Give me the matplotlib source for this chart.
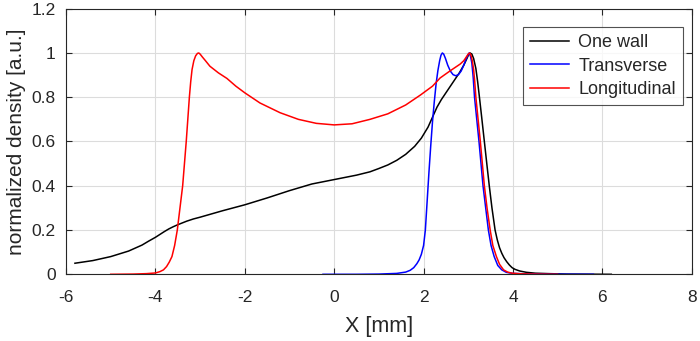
import matplotlib
matplotlib.use("Agg")
import matplotlib.pyplot as plt

# density profiles across the channel
one_wall_x = [-5.8, -5.4, -5.0, -4.6, -4.3, -4.15, -4.0, -3.9, -3.8, -3.7, -3.6, -3.5,
              -3.4, -3.3, -3.15, -3.0, -2.5, -2.0, -1.5, -1.0, -0.5, 0.0, 0.5, 0.8, 1.0,
              1.2, 1.4, 1.6, 1.8, 1.95, 2.1, 2.2, 2.3, 2.4, 2.5, 2.65, 2.8, 2.9, 2.97,
              3.01, 3.04, 3.08, 3.12, 3.17, 3.21, 3.25, 3.3, 3.36, 3.42, 3.47, 3.53, 3.6,
              3.65, 3.7, 3.75, 3.8, 3.86, 3.92, 3.98, 4.05, 4.15, 4.3, 4.5, 4.8, 5.2, 6.2]
one_wall_y = [0.05, 0.062, 0.08, 0.105, 0.132, 0.15, 0.167, 0.18, 0.193, 0.205, 0.215,
              0.224, 0.232, 0.24, 0.25, 0.258, 0.287, 0.314, 0.345, 0.378, 0.408, 0.428,
              0.448, 0.463, 0.478, 0.494, 0.515, 0.542, 0.578, 0.615, 0.665, 0.71, 0.755,
              0.79, 0.82, 0.865, 0.91, 0.945, 0.975, 0.993, 1.0, 0.995, 0.975, 0.93,
              0.87, 0.8, 0.71, 0.6, 0.49, 0.4, 0.3, 0.2, 0.155, 0.12, 0.095, 0.075, 0.057,
              0.042, 0.03, 0.022, 0.015, 0.009, 0.005, 0.003, 0.001, 0.0]

transverse_x = [-0.25, 0.5, 1.0, 1.4, 1.6, 1.7, 1.78, 1.85, 1.9, 1.95, 2.0, 2.04, 2.08,
                2.12, 2.16, 2.2, 2.24, 2.28, 2.32, 2.36, 2.39, 2.42, 2.45, 2.49, 2.54,
                2.6, 2.66, 2.72, 2.78, 2.84, 2.9, 2.95, 2.99, 3.02, 3.05, 3.08, 3.11,
                3.14, 3.19, 3.24, 3.285, 3.33, 3.39, 3.45, 3.51, 3.58, 3.66, 3.75, 3.85,
                4.0, 4.3, 4.8, 5.8]
transverse_y = [0.0, 0.0, 0.001, 0.004, 0.01, 0.018, 0.03, 0.048, 0.065, 0.09, 0.13, 0.2,
                0.33, 0.46, 0.58, 0.69, 0.78, 0.86, 0.92, 0.965, 0.99, 1.0, 0.995, 0.975,
                0.945, 0.918, 0.902, 0.897, 0.902, 0.918, 0.945, 0.972, 0.99, 1.0, 0.985,
                0.955, 0.89, 0.8, 0.7, 0.6, 0.5, 0.4, 0.3, 0.2, 0.13, 0.08, 0.04, 0.02,
                0.009, 0.004, 0.002, 0.0005, 0.0]

longitudinal_x = [-5.0, -4.5, -4.2, -4.0, -3.9, -3.82, -3.75, -3.69, -3.63, -3.57, -3.51,
                  -3.45, -3.39, -3.35, -3.31, -3.275, -3.24, -3.21, -3.18, -3.14, -3.1,
                  -3.06, -3.03, -3.0, -2.95, -2.88, -2.78, -2.59, -2.4, -2.2, -2.0, -1.66,
                  -1.21, -0.8, -0.4, 0.0, 0.4, 0.8, 1.2, 1.6, 1.93, 2.2, 2.37, 2.6, 2.82,
                  2.9, 2.95, 3.0, 3.03, 3.06, 3.09, 3.12, 3.145, 3.17, 3.22, 3.27, 3.315,
                  3.36, 3.42, 3.49, 3.55, 3.63, 3.7, 3.79, 3.88, 3.98, 4.2, 4.5, 5.0]
longitudinal_y = [0.0, 0.001, 0.003, 0.006, 0.012, 0.02, 0.035, 0.055, 0.08, 0.13, 0.2,
                  0.3, 0.4, 0.5, 0.6, 0.7, 0.8, 0.87, 0.925, 0.965, 0.987, 0.998, 1.0,
                  0.995, 0.982, 0.965, 0.94, 0.91, 0.885, 0.85, 0.82, 0.774, 0.73, 0.70,
                  0.682, 0.675, 0.68, 0.70, 0.725, 0.765, 0.81, 0.85, 0.887, 0.92, 0.95,
                  0.965, 0.98, 0.995, 1.0, 0.99, 0.965, 0.925, 0.87, 0.8, 0.7, 0.6, 0.5,
                  0.4, 0.3, 0.2, 0.13, 0.08, 0.045, 0.02, 0.01, 0.005, 0.002, 0.001, 0.0]

x_ticks = [-6, -4, -2, 0, 2, 4, 6, 8]
y_ticks = [0, 0.2, 0.4, 0.6, 0.8, 1.0, 1.2]
y_tick_labels = ["0", "0.2", "0.4", "0.6", "0.8", "1", "1.2"]

plt.rcParams["font.family"] = ["Liberation Sans", "DejaVu Sans"]
text_color = "#262626"

fig = plt.figure(figsize=(7.0, 3.41), dpi=100)
ax = fig.add_axes([0.0943, 0.1956, 0.8939, 0.7789])

ax.plot(one_wall_x, one_wall_y, color="black", lw=1.1, label="One wall")
ax.plot(transverse_x, transverse_y, color="blue", lw=1.1, label="Transverse")
ax.plot(longitudinal_x, longitudinal_y, color="red", lw=1.1, label="Longitudinal")

ax.set_xlim(-6, 8)
ax.set_ylim(0, 1.2)
ax.set_xticks(x_ticks)
ax.set_xticklabels([str(t) for t in x_ticks])
ax.set_yticks(y_ticks)
ax.set_yticklabels(y_tick_labels)

ax.grid(True, color="#dcdcdc", lw=0.8)
ax.set_axisbelow(True)
ax.tick_params(direction="in", length=4, width=0.8, top=True, right=True,
               labelsize=12.5, colors=text_color)
ax.tick_params(axis="x", pad=11)
ax.tick_params(axis="y", pad=7.5)
for spine in ax.spines.values():
    spine.set_color(text_color)
    spine.set_linewidth(0.8)

ax.set_xlabel("X [mm]", fontsize=15.5, color=text_color, labelpad=8)
ax.set_ylabel("normalized density [a.u.]", fontsize=15, color=text_color, labelpad=4)

leg = ax.legend(loc="upper right", bbox_to_anchor=(0.986, 0.93), fontsize=13,
                frameon=True, fancybox=False, handlelength=2.2, handletextpad=0.5,
                labelspacing=0.36, borderpad=0.38, borderaxespad=0.0)
leg.get_frame().set_edgecolor(text_color)
leg.get_frame().set_linewidth(0.8)
for t in leg.get_texts():
    t.set_color(text_color)

fig.savefig("out.png", dpi=100)
